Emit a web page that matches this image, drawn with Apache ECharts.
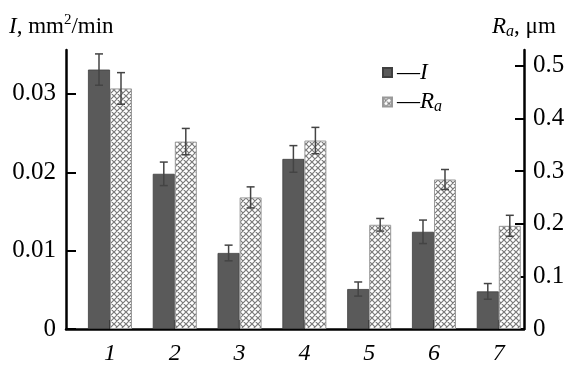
<!DOCTYPE html>
<html><head><meta charset="utf-8">
<script src="https://cdn.jsdelivr.net/npm/echarts@6/dist/echarts.min.js"></script>
<style>html,body{margin:0;padding:0;background:#fff}#c{width:569px;height:368px}</style>
</head><body><div id="c"></div>
<script>
const categories = [1, 2, 3, 4, 5, 6, 7];
const valuesI = [0.0331, 0.0198, 0.0097, 0.0217, 0.0051, 0.0124, 0.0048];
const errI = [0.0020, 0.0015, 0.0010, 0.0017, 0.0009, 0.0015, 0.0010];
const valuesRa = [0.457, 0.356, 0.250, 0.358, 0.198, 0.284, 0.196];
const errRa = [0.030, 0.025, 0.020, 0.025, 0.012, 0.019, 0.020];
const ticksI = [0, 0.01, 0.02, 0.03];
const ticksRa = [0, 0.1, 0.2, 0.3, 0.4, 0.5];

const SERIF = 'Liberation Serif';

// crosshatch pattern
const pc = document.createElement('canvas');
pc.width = 6; pc.height = 6;
const g = pc.getContext('2d');
g.fillStyle = '#fff'; g.fillRect(0, 0, 6, 6);
g.strokeStyle = '#7a7a7a'; g.lineWidth = 1.2;
g.beginPath();
g.moveTo(-1, -1); g.lineTo(7, 7);
g.moveTo(-1, 7); g.lineTo(7, -1);
g.moveTo(-4, 2); g.lineTo(2, -4);
g.moveTo(4, 10); g.lineTo(10, 4);
g.moveTo(2, 10); g.lineTo(-4, 4);
g.moveTo(10, 2); g.lineTo(4, -4);
g.stroke();
const hatch = {image: pc, repeat: 'repeat'};

function errSeries(vals, errs, yIdx, shift) {
  return {
    type: 'custom', xAxisIndex: 0, yAxisIndex: yIdx, z: 5,
    data: categories.map((c, i) => [c, vals[i], errs[i]]),
    renderItem: function (params, api) {
      const x = api.value(0), v = api.value(1), e = api.value(2);
      const top = api.coord([x, v + e]);
      const bot = api.coord([x, v - e]);
      const px = top[0] + shift;
      const st = {stroke: '#444', lineWidth: 1.5};
      return {type: 'group', children: [
        {type: 'line', shape: {x1: px, y1: top[1], x2: px, y2: bot[1]}, style: st},
        {type: 'line', shape: {x1: px - 4, y1: top[1], x2: px + 4, y2: top[1]}, style: st},
        {type: 'line', shape: {x1: px - 4, y1: bot[1], x2: px + 4, y2: bot[1]}, style: st}
      ]};
    }
  };
}

function f(size, extra) {
  return Object.assign({fontFamily: SERIF, fontSize: size, color: '#000', fontWeight: 'normal'}, extra || {});
}
const chart = echarts.init(document.getElementById('c'), null, {renderer: 'canvas'});
const axisLineStyle = {color: '#000', width: 2.5};
chart.setOption({
  animation: false,
  backgroundColor: '#fff',
  grid: {left: 66, right: 45, top: 50, bottom: 39},
  title: [
    {left: 9, top: 12, padding: 0, text: '{it|I}{n|, mm}{sup|2}{n|/min}',
      textStyle: f(23, {rich: {
        it: f(23, {fontStyle: 'italic', lineHeight: 30}),
        n: f(23, {lineHeight: 30}),
        sup: f(15, {lineHeight: 30, padding: [0, 0, 13, 0]})
      }})},
    {left: 492, top: 12, padding: 0, text: '{it|R}{sub|a}{n|, μm}',
      textStyle: f(23, {rich: {
        it: f(23, {fontStyle: 'italic', lineHeight: 30}),
        sub: f(16, {fontStyle: 'italic', lineHeight: 30, padding: [9, 0, 0, 0]}),
        n: f(23, {lineHeight: 30})
      }})}
  ],
  legend: {
    orient: 'vertical', left: 382, top: 61, padding: 0, itemWidth: 9, itemHeight: 9, itemGap: 5,
    icon: 'rect',
    data: ['I', 'Ra'],
    formatter: function (n) { return n === 'I' ? '{n|—}{it|I}' : '{n|—}{it|R}{sub|a}'; },
    textStyle: f(23, {rich: {
      n: f(23, {lineHeight: 24}),
      it: f(23, {fontStyle: 'italic', lineHeight: 24}),
      sub: f(16, {fontStyle: 'italic', lineHeight: 24, padding: [10, 0, 0, 0]})
    }})
  },
  xAxis: {
    type: 'value', min: 0.321, max: 7.389,
    splitLine: {show: false},
    axisLine: {lineStyle: axisLineStyle},
    axisTick: {inside: true, length: 9, customValues: categories, lineStyle: {color: '#000', width: 2}},
    axisLabel: f(24, {customValues: categories, margin: 13, fontStyle: 'italic',
      formatter: v => String(v)})
  },
  yAxis: [
    {type: 'value', min: 0, max: 0.0356, position: 'left',
      splitLine: {show: false},
      axisLine: {show: true, lineStyle: axisLineStyle},
      axisTick: {show: true, inside: true, length: 10, customValues: ticksI, lineStyle: {color: '#000', width: 2}},
      axisLabel: f(25, {customValues: ticksI, margin: 10,
        formatter: v => v === 0 ? '0' : v.toFixed(2)})},
    {type: 'value', min: 0, max: 0.53, position: 'right',
      splitLine: {show: false},
      axisLine: {show: true, lineStyle: axisLineStyle},
      axisTick: {show: true, inside: true, length: 9, customValues: ticksRa, lineStyle: {color: '#000', width: 2}},
      axisLabel: f(25, {customValues: ticksRa, margin: 9,
        formatter: v => v === 0 ? '0' : v.toFixed(1)})}
  ],
  series: [
    {name: 'I', type: 'bar', xAxisIndex: 0, yAxisIndex: 0, barWidth: 22, barGap: '0%',
      data: categories.map((c, i) => [c, valuesI[i]]),
      itemStyle: {color: '#5a5a5a', borderColor: '#3f3f3f', borderWidth: 0.8}},
    {name: 'Ra', type: 'bar', xAxisIndex: 0, yAxisIndex: 1, barWidth: 22, barGap: '0%',
      data: categories.map((c, i) => [c, valuesRa[i]]),
      itemStyle: {color: hatch, borderColor: '#999', borderWidth: 1}},
    errSeries(valuesI, errI, 0, -11),
    errSeries(valuesRa, errRa, 1, 11)
  ]
});
</script>
</body></html>
